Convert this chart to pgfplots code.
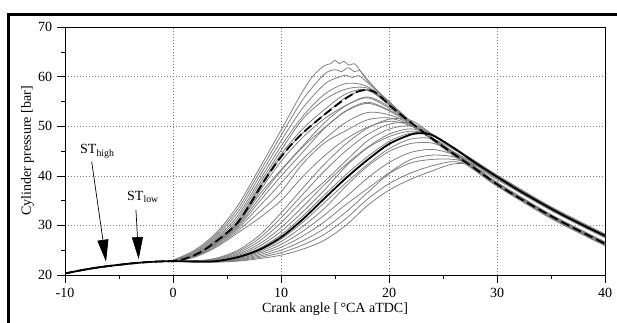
\documentclass[border=0pt]{standalone}
\usepackage{fontspec}
\setmainfont{Liberation Serif}
\usepackage{pgfplots}
\usepackage{pgfplotstable}
\pgfplotsset{compat=1.18}
\usetikzlibrary{arrows.meta}
\definecolor{cyc}{RGB}{128,128,128}

\pgfplotstableread{
t h4 h5 h6 h7 h8 h9 h10 h11 h12 h13 h14
0 22.88 22.85 22.82 22.8 22.79 22.78 22.77 22.76 22.74 22.72 22.7
2 24.4 24.24 24.1 24.0 23.96 23.92 23.87 23.82 23.76 23.68 23.6
4 27.48 27.21 26.97 26.8 26.68 26.56 26.42 26.27 26.08 25.84 25.6
6 31.96 31.42 30.94 30.6 30.39 30.18 29.93 29.68 29.34 28.92 28.5
8 39.04 38.38 37.81 37.4 36.81 36.22 35.51 34.8 33.86 32.68 31.5
10 45.96 45.1 44.34 43.8 42.92 41.2 40.98 39.93 38.52 36.76 35.0
12 51.96 51.4 49.44 48.6 47.72 46.0 45.78 44.73 43.32 42.4 39.8
14 56.38 55.3 53.32 52.3 51.47 50.64 49.64 49.5 47.32 46.6 44.0
16 58.6 57.48 56.5 55.8 54.2 54.12 53.11 53.0 50.76 49.08 47.4
18 58.0 57.68 57.4 57.2 55.9 55.72 54.83 54.6 52.76 51.28 49.8
20 54.58 54.47 54.37 54.3 53.97 53.64 53.24 53.1 52.32 51.66 51.0
22 50.88 50.85 50.82 50.8 50.73 50.66 50.58 50.49 50.38 50.24 50.1
24 47.6 47.4 47.5 47.5 47.3 47.6 47.4 47.6 47.2 47.5 47.3
26 44.7 44.2 44.5 44.4 44.1 44.6 44.3 44.8 44.0 44.6 44.2
28 41.7 41.2 41.5 41.4 41.1 41.6 41.3 41.8 41.0 41.6 41.2
30 38.6 38.1 38.4 38.3 38.0 38.5 38.2 38.7 37.9 38.5 38.1
35 32.1 31.6 31.9 31.8 31.5 32.0 31.7 32.2 31.4 32.0 31.6
40 26.6 26.1 26.4 26.3 26.0 26.5 26.2 26.7 25.9 26.5 26.1
}\hightab

\pgfplotstableread{
t l1 l2 l3 l4 l5 l6 l7 l8 l9 l10 l11 l12 l13 l14
0 22.8 22.8 22.8 22.8 22.8 22.8 22.8 22.8 22.8 22.8 22.8 22.8 22.8 22.8
2 22.8 22.78 22.76 22.74 22.72 22.71 22.7 22.69 22.68 22.66 22.64 22.63 22.61 22.6
4 23.4 23.28 23.16 23.04 22.94 22.86 22.8 22.78 22.75 22.72 22.69 22.66 22.63 22.6
6 25.0 24.72 24.44 24.16 23.94 23.74 23.6 23.52 23.41 23.28 23.15 23.02 22.91 22.8
8 28.0 27.42 26.84 26.26 25.8 25.39 25.1 24.92 24.67 24.38 24.09 23.8 23.55 23.3
10 32.5 31.52 30.54 29.56 28.78 28.09 27.6 27.24 26.74 26.16 25.58 25.01 24.5 24.0
12 37.5 36.24 34.98 33.72 32.71 31.83 31.2 30.6 29.76 28.8 27.84 26.88 26.04 25.2
14 42.3 40.92 38.8 38.16 37.06 36.09 35.4 34.56 33.38 32.04 30.7 29.35 28.18 27.0
16 46.4 45.02 43.0 42.26 41.9 40.19 39.5 38.55 37.9 35.7 34.18 32.66 31.33 30.0
18 49.6 48.32 47.04 45.76 45.6 43.84 43.2 42.28 41.9 39.52 37.4 36.58 35.29 34.0
20 51.4 50.4 49.4 48.4 47.9 46.9 46.4 45.47 44.9 42.68 40.6 40.4 38.4 37.1
22 51.2 50.62 50.04 49.46 49.0 48.59 48.3 47.4 46.5 44.7 43.26 42.6 40.56 39.3
24 48.4 48.36 48.32 48.28 48.25 48.22 48.2 47.48 46.6 45.32 44.17 43.3 42.01 41.0
26 45.7 45.68 45.66 45.64 45.62 45.61 45.6 45.28 44.83 44.32 43.81 43.3 42.85 42.4
28 42.9 42.48 42.96 42.54 42.72 42.32 42.6 42.73 42.23 42.62 42.11 42.2 41.7 42.1
30 40.1 39.68 40.16 39.74 39.92 39.51 39.8 39.97 39.53 39.98 39.53 39.68 39.24 39.7
35 33.7 33.28 33.76 33.34 33.52 33.11 33.4 33.59 33.18 33.66 33.24 33.43 33.01 33.5
40 28.2 27.78 28.26 27.84 28.02 27.61 27.9 28.09 27.68 28.16 27.74 27.93 27.51 28.0
}\lowtab

\begin{document}
\fontsize{14pt}{16pt}\selectfont
\begin{tikzpicture}[x=1pt,y=1pt]
\useasboundingbox (0,0) rectangle (617,322);
\draw[line width=2.7pt] (8.7,-10) -- (8.7,307.3) -- (630,307.3);
\begin{axis}[
  at={(65pt,47pt)}, anchor=south west,
  scale only axis, width=540pt, height=248pt,
  xmin=-10, xmax=40, ymin=20, ymax=70,
  xtick={-10,0,...,40}, ytick={20,30,...,70},
  minor x tick num=1, minor y tick num=1,
  xtick pos=bottom, ytick pos=left,
  tick align=outside,
  major tick length=8pt, minor tick length=4pt,
  every tick/.style={black, line width=0.6pt},
  axis line style={line width=0.7pt},
  grid=major,
  major grid style={gray, dash pattern=on 1pt off 2pt, line width=0.6pt},
  /pgf/number format/assume math mode=true,
  ticklabel style={font=\fontsize{14pt}{16pt}\selectfont},
  label style={font=\fontsize{14pt}{16pt}\selectfont},
  xlabel={Crank angle [\,°CA aTDC]},
  ylabel={Cylinder pressure [bar]},
  every axis x label/.style={at={(axis description cs:0.5,-0.153)}, anchor=base},
  every axis y label/.style={at={(axis description cs:-0.063,0.5)}, rotate=90, anchor=base},
  clip=true,
]
% common compression part of all cycles
\addplot[cyc, line width=0.8pt, smooth] coordinates {(-10,20.3) (-8,21.15) (-6,21.8) (-4,22.3) (-2,22.65) (0,22.8)};
% high spark timing cycles with knock ripple
\addplot[cyc, line width=0.8pt, smooth] coordinates {(0,23.0) (2,25.0) (4,28.5) (6,34.0) (8,41.5) (10,49.2) (12,57.0) (13,60.2) (14,62.2) (14.6,62.6) (15,63.3) (15.4,62.6) (15.8,63.1) (16.3,62.3) (16.8,62.6) (17.4,61.0) (18,59.4) (19,57.0) (20,55.0) (22,51.0) (24,47.7) (26,44.6) (28,41.5) (30,38.4) (35,31.9) (40,26.4)};
\addplot[cyc, line width=0.8pt, smooth] coordinates {(0,22.96) (2,24.8) (4,28.16) (6,33.32) (8,40.68) (10,48.12) (12,55.32) (14,60.46) (15,61.4) (15.6,61.0) (16.2,61.8) (16.8,61.0) (17.3,61.2) (18,59.2) (19,57.0) (20,54.9) (22,50.96) (24,47.4) (26,44.3) (28,41.3) (30,38.2) (35,31.7) (40,26.2)};
\addplot[cyc, line width=0.8pt, smooth] coordinates {(0,22.92) (2,24.6) (4,27.82) (6,32.64) (8,39.86) (10,47.04) (12,53.64) (14,58.42) (15,59.6) (16,60.3) (16.6,59.8) (17.2,60.2) (18,58.8) (19,56.8) (20,54.72) (22,50.92) (24,47.6) (26,44.5) (28,41.5) (30,38.4) (35,31.9) (40,26.4)};
\pgfplotsinvokeforeach{4,...,14}{
  \addplot[cyc, line width=0.8pt, smooth] table[x=t, y=h#1] {\hightab};
}
\pgfplotsinvokeforeach{1,...,14}{
  \addplot[cyc, line width=0.8pt, smooth] table[x=t, y=l#1] {\lowtab};
}
% mean, low spark timing
\addplot[black, line width=1.8pt, smooth] coordinates {(-10,20.3) (-9,20.75) (-8,21.15) (-7,21.5) (-6,21.8) (-5,22.05) (-4,22.3) (-3,22.5) (-2,22.65) (-1,22.75) (0,22.8) (2,22.75) (4,22.8) (6,23.6) (8,25.1) (10,27.6) (12,31.2) (14,35.4) (16,39.5) (18,43.2) (20,46.4) (22,48.3) (23,48.6) (24,48.2) (26,45.6) (28,42.6) (30,39.8) (32,37.1) (34,34.6) (36,32.2) (38,30.0) (40,27.9)};
% mean, high spark timing
\addplot[black, line width=1.8pt, dash pattern=on 9pt off 4pt, smooth] coordinates {(-10,20.3) (-9,20.75) (-8,21.15) (-7,21.5) (-6,21.8) (-5,22.05) (-4,22.3) (-3,22.5) (-2,22.65) (-1,22.75) (0,22.8) (1,23.2) (2,24.0) (3,25.2) (4,26.8) (5,28.5) (6,30.6) (7,33.8) (8,37.4) (9,40.8) (10,43.8) (11,46.4) (12,48.6) (13,50.5) (14,52.3) (15,54.0) (16,55.6) (17,56.9) (17.8,57.3) (18.6,57.0) (19.3,55.8) (20,54.3) (21,52.5) (22,50.8) (23,49.1) (24,47.5) (26,44.4) (28,41.4) (30,38.3) (32,35.6) (34,33.1) (36,30.7) (38,28.5) (40,26.3)};
% annotations
\draw[line width=0.7pt, -{Triangle[length=22pt,width=11pt]}] (axis cs:-7.53,42.84) -- (axis cs:-6.2,22.68);
\draw[line width=0.7pt, -{Triangle[length=22pt,width=11pt]}] (axis cs:-3.43,33.1) -- (axis cs:-3.18,23.2);
\node[anchor=base west, inner sep=0pt, font=\fontsize{14pt}{16pt}\selectfont] at (axis cs:-8.61,44.4) {ST\textsubscript{high}};
\node[anchor=base west, inner sep=0pt, font=\fontsize{14pt}{16pt}\selectfont] at (axis cs:-4.26,35.1) {ST\textsubscript{low}};
\end{axis}
\end{tikzpicture}
\end{document}
